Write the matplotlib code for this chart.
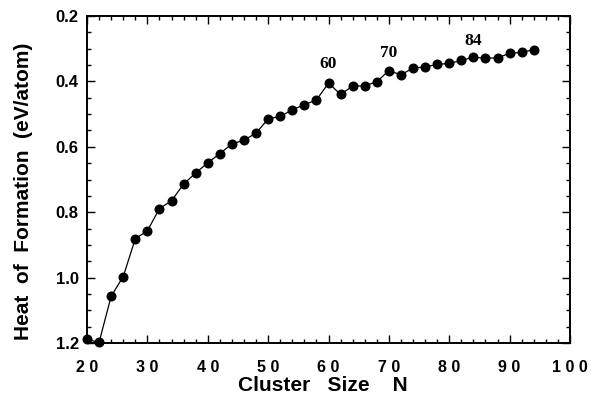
import matplotlib
matplotlib.use('Agg')
import matplotlib.pyplot as plt
from matplotlib.ticker import MultipleLocator

# cluster size N and heat of formation (eV/atom)
cluster_size = [20, 22, 24, 26, 28, 30, 32, 34, 36, 38, 40, 42, 44, 46, 48,
                50, 52, 54, 56, 58, 60, 62, 64, 66, 68, 70, 72, 74, 76, 78,
                80, 82, 84, 86, 88, 90, 92, 94]
heat = [1.189, 1.198, 1.057, 0.997, 0.881, 0.857, 0.789, 0.765, 0.714, 0.68,
        0.649, 0.621, 0.591, 0.58, 0.558, 0.515, 0.507, 0.487, 0.471, 0.457,
        0.405, 0.44, 0.414, 0.414, 0.401, 0.367, 0.38, 0.359, 0.356, 0.348,
        0.345, 0.336, 0.326, 0.329, 0.328, 0.314, 0.311, 0.303]

magic = [60, 70, 84]
magic_label_y = [0.347, 0.312, 0.276]

x_ticks = [20, 30, 40, 50, 60, 70, 80, 90, 100]
y_ticks = [0.2, 0.4, 0.6, 0.8, 1.0, 1.2]

fig = plt.figure(figsize=(5.91, 3.98), dpi=100)
ax = fig.add_axes([87/591, 1 - 343/398, (570-87)/591, (343-16)/398])

ax.plot(cluster_size, heat, color='black', linewidth=0.9, clip_on=False,
        marker='o', markersize=6.2, markerfacecolor='black', markeredgecolor='black')

for n, yl in zip(magic, magic_label_y):
    ax.text(n, yl, str(n), ha='center', va='center', fontsize=12.5,
            fontweight='bold', family='Liberation Serif')

ax.set_xlim(20, 100)
ax.set_ylim(1.2, 0.2)
ax.set_xticks(x_ticks)
# spaced-out digits like the original lettering
ax.set_xticklabels([' '.join(str(v)) for v in x_ticks],
                   fontsize=11.5, fontweight='bold', family='Liberation Sans')
ax.set_yticks(y_ticks)
ax.set_yticklabels(['%.1f' % v for v in y_ticks], fontsize=12,
                   fontweight='bold', family='Liberation Sans')
ax.xaxis.set_minor_locator(MultipleLocator(2))
ax.yaxis.set_minor_locator(MultipleLocator(0.05))

ax.tick_params(which='both', direction='in', top=True, right=True, width=1.0)
ax.tick_params(which='major', length=6)
ax.tick_params(axis='x', which='major', pad=12)
ax.tick_params(axis='y', which='major', pad=6)
ax.tick_params(which='minor', length=3)
for s in ax.spines.values():
    s.set_linewidth(1.4)

ax.set_xlabel('Cluster   Size    N', fontsize=15, fontweight='bold',
              family='Liberation Sans')
ax.xaxis.set_label_coords(0.489, -0.10)
ax.set_ylabel('Heat  of  Formation  (eV/atom)', fontsize=15, fontweight='bold',
              family='Liberation Sans')
ax.yaxis.set_label_coords(-0.112, 0.465)

fig.savefig('out.png', dpi=100)
